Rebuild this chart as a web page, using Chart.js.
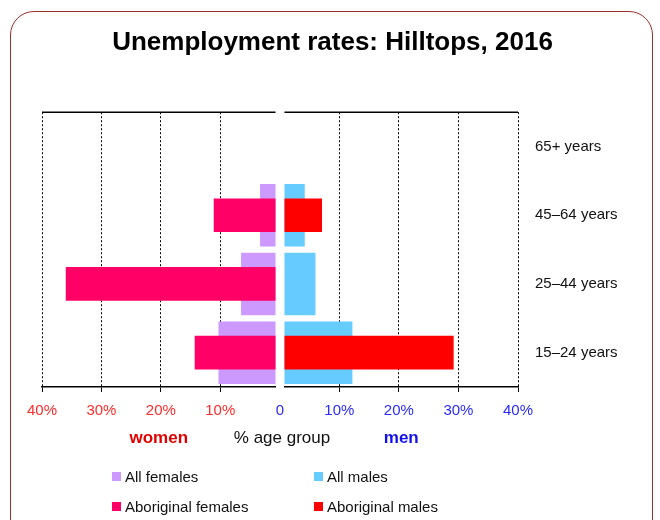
<!DOCTYPE html>
<html>
<head>
<meta charset="utf-8">
<script src="https://cdn.jsdelivr.net/npm/chart.js@4.4.1/dist/chart.umd.min.js"></script>
<style>
  html, body { margin: 0; padding: 0; background: #fff; }
  #wadah { position: relative; width: 660px; height: 520px; overflow: hidden; font-family: "Liberation Sans", Arial, sans-serif; }
  #bingkai { position: absolute; left: 10px; top: 11px; width: 643px; height: 600px; box-sizing: border-box;
             border: 1.5px solid #9b3030; border-radius: 24px; }
  #grafik { position: absolute; left: 0; top: 0; }
  #legenda { position: absolute; left: 112px; top: 466px; display: grid; grid-template-columns: 202px auto;
             row-gap: 10px; font-size: 15px; color: #111; }
  .item { display: flex; align-items: center; height: 20px; }
  .kotak { width: 9px; height: 9px; margin-right: 4px; }
</style>
</head>
<body>
<div id="wadah">
  <div id="bingkai"></div>
  <canvas id="grafik" width="660" height="520"></canvas>
  <div id="legenda"></div>
</div>
<script>
// Kelompok umur (dari atas ke bawah)
const kelompokUmur = ['65+ years', '45–64 years', '25–44 years', '15–24 years'];

// Tingkat pengangguran (%) per kelompok umur
const semuaPerempuan = [null, 3.3, 6.5, 10.3];
const perempuanAborigin = [null, 11.1, 36.0, 14.3];
const semuaLaki = [null, 4.2, 6.0, 12.2];
const lakiAborigin = [null, 7.1, null, 29.2];

// Label sumbu x (dipakai di kedua sisi)
const nilaiTick = [10, 20, 30, 40];

const warnaMerah = '#ff2a2a';
const warnaBiru = '#2a2aff';
const hurufDasar = '"Liberation Sans", Arial, sans-serif';

Chart.defaults.font.family = hurufDasar;

// Fungsi untuk membuat skala sisi kiri / kanan
function buatSkalaSisi(warnaTick, judul, warnaJudul, dibalik, minimum) {
  return {
    type: 'linear',
    axis: 'x',
    position: 'bottom',
    stack: 'sumbu',
    stackWeight: 26,
    reverse: dibalik,
    min: minimum,
    max: 40,
    beginAtZero: false,
    afterBuildTicks: (skala) => {
      skala.ticks = nilaiTick.map((v) => ({ value: v }));
    },
    grid: { color: '#000', lineWidth: 1, tickLength: 5, tickColor: '#000' },
    border: { display: true, color: '#000', width: 1.5, dash: [2, 2] },
    ticks: {
      color: warnaTick,
      font: { size: 15 },
      padding: 10,
      maxRotation: 0,
      autoSkip: false,
      callback: (v) => v + '%'
    },
    title: {
      display: true,
      text: judul,
      color: warnaJudul,
      font: { size: 17, weight: 'bold' },
      padding: { top: -2, bottom: 0 }
    }
  };
}

// Plugin: garis atas panel dan label tengah "% age group"
const pluginTambahan = {
  id: 'pluginTambahan',
  afterDraw(chart) {
    const ctx = chart.ctx;
    const atas = chart.chartArea.top;
    ctx.save();
    ctx.strokeStyle = '#000';
    ctx.lineWidth = 1.5;
    ['xKiri', 'xKanan'].forEach((id) => {
      const s = chart.scales[id];
      ctx.beginPath();
      ctx.moveTo(s.left, atas);
      ctx.lineTo(s.right, atas);
      ctx.stroke();
    });
    const tengah = chart.scales.xTengah;
    const kiri = chart.scales.xKiri;
    ctx.fillStyle = '#111';
    ctx.font = '17px ' + hurufDasar;
    ctx.textAlign = 'center';
    ctx.textBaseline = 'middle';
    ctx.fillText('% age group', (tengah.left + tengah.right) / 2 + 2, kiri.bottom - 17 * 1.2 / 2);
    ctx.restore();
  }
};

const pengaturanBatang = { yAxisID: 'y', grouped: false, categoryPercentage: 1 };

const grafik = new Chart(document.getElementById('grafik'), {
  type: 'bar',
  data: {
    labels: kelompokUmur,
    datasets: [
      Object.assign({ label: 'Aboriginal females', data: perempuanAborigin, xAxisID: 'xKiri',
        backgroundColor: '#ff0066', barPercentage: 0.49, order: 0 }, pengaturanBatang),
      Object.assign({ label: 'Aboriginal males', data: lakiAborigin, xAxisID: 'xKanan',
        backgroundColor: '#ff0000', barPercentage: 0.49, order: 0 }, pengaturanBatang),
      Object.assign({ label: 'All females', data: semuaPerempuan, xAxisID: 'xKiri',
        backgroundColor: '#cc99ff', barPercentage: 0.91, order: 1 }, pengaturanBatang),
      Object.assign({ label: 'All males', data: semuaLaki, xAxisID: 'xKanan',
        backgroundColor: '#66ccff', barPercentage: 0.91, order: 1 }, pengaturanBatang)
    ]
  },
  options: {
    indexAxis: 'y',
    responsive: false,
    animation: false,
    layout: { padding: { top: 14, left: 42, right: 37, bottom: 71.6 } },
    plugins: {
      legend: { display: false },
      tooltip: { enabled: false },
      title: {
        display: true,
        text: 'Unemployment rates: Hilltops, 2016',
        color: '#000',
        font: { size: 26, weight: 'bold' },
        padding: { top: 13, bottom: 54 }
      }
    },
    scales: {
      xKiri: buatSkalaSisi(warnaMerah, 'women', '#e00000', true, 0.7),
      xTengah: {
        type: 'linear',
        axis: 'x',
        position: 'bottom',
        stack: 'sumbu',
        stackWeight: 1,
        min: -1,
        max: 1,
        afterBuildTicks: (skala) => { skala.ticks = [{ value: 0 }]; },
        grid: { display: false, tickLength: 5 },
        border: { display: false },
        ticks: { color: warnaBiru, font: { size: 15 }, padding: 10, maxRotation: 0, autoSkip: false,
          callback: () => '0' }
      },
      xKanan: buatSkalaSisi(warnaBiru, 'men', '#1010ee', false, 0.8),
      y: {
        type: 'category',
        position: 'right',
        grid: { display: false, drawTicks: false },
        border: { display: false },
        ticks: { color: '#111', font: { size: 15 }, padding: 17 },
        afterFit: (skala) => { skala.width = 105; }
      }
    }
  },
  plugins: [pluginTambahan]
});

// Legenda HTML (dua kolom seperti gambar asli)
const urutanLegenda = ['All females', 'All males', 'Aboriginal females', 'Aboriginal males'];
const legenda = document.getElementById('legenda');
urutanLegenda.forEach((nama) => {
  const ds = grafik.data.datasets.find((d) => d.label === nama);
  const item = document.createElement('div');
  item.className = 'item';
  item.innerHTML = `<span class="kotak" style="background:${ds.backgroundColor}"></span><span>${nama}</span>`;
  legenda.appendChild(item);
});
</script>
</body>
</html>
